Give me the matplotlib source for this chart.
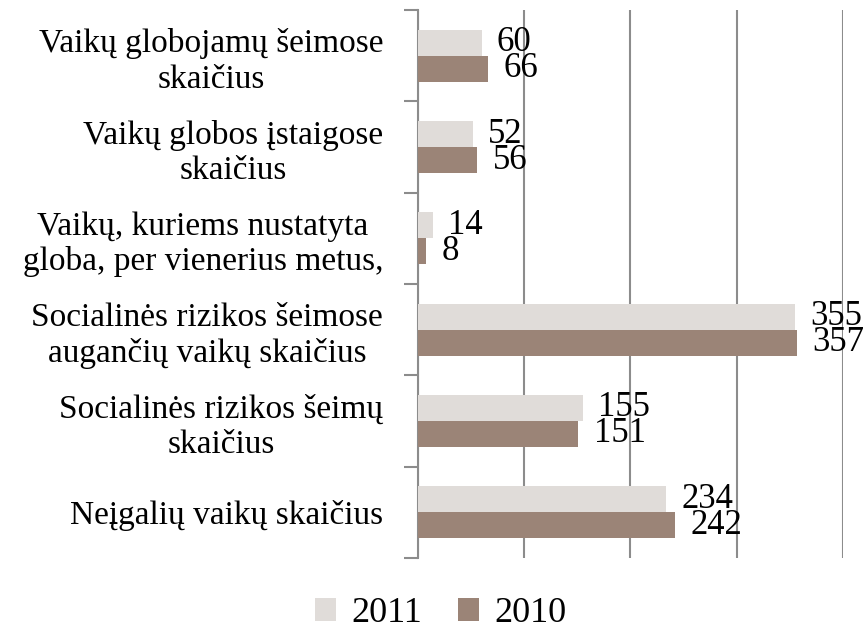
import matplotlib
matplotlib.use("Agg")
import matplotlib.pyplot as plt
import numpy as np

plt.rcParams['font.family'] = ['Liberation Serif', 'DejaVu Serif']

categories = [
    "Vaikų globojamų šeimose\nskaičius",
    "Vaikų globos įstaigose\nskaičius",
    "Vaikų, kuriems nustatyta\ngloba, per vienerius metus,",
    "Socialinės rizikos šeimose\naugančių vaikų skaičius",
    "Socialinės rizikos šeimų\nskaičius",
    "Neįgalių vaikų skaičius",
]
values_2011 = [60, 52, 14, 355, 155, 234]
values_2010 = [66, 56, 8, 357, 151, 242]
series_names = ["2011", "2010"]
colors = ["#E0DCD9", "#9B8477"]

fig = plt.figure(figsize=(8.67, 6.31), dpi=100)
ax = fig.add_axes([0.482, 0.116, 0.490, 0.868])

y = np.arange(len(categories))
bar_h = 0.285

bars_a = ax.barh(y - bar_h / 2, values_2011, height=bar_h, color=colors[0],
                 label=series_names[0], zorder=3)
bars_b = ax.barh(y + bar_h / 2, values_2010, height=bar_h, color=colors[1],
                 label=series_names[1], zorder=3)

# data labels right of bar ends (they sit tightly stacked, as in the original)
for bars, vals in [(bars_a, values_2011), (bars_b, values_2010)]:
    for bar, v in zip(bars, vals):
        ax.annotate(str(v), (v, bar.get_y() + bar.get_height() / 2),
                    xytext=(11, 0), textcoords='offset points',
                    ha='left', va='center', fontsize=25, annotation_clip=False)

ax.set_xlim(0, 400)
ax.set_ylim(len(categories) - 0.5, -0.5)
ax.set_xticks([0, 100, 200, 300, 400])
ax.set_xticklabels([])
ax.tick_params(axis='x', length=0)
ax.grid(axis='x', color='#8c8c8c', linewidth=1.5, zorder=0)

ax.set_yticks(y)
ax.set_yticklabels(categories, fontsize=24, multialignment='center')
ax.tick_params(axis='y', which='major', length=0, pad=25)
ax.set_yticks(np.arange(-0.5, len(categories), 1), minor=True)
ax.tick_params(axis='y', which='minor', length=10, width=1.5, color='#8c8c8c')

for side in ['top', 'right', 'bottom']:
    ax.spines[side].set_visible(False)
ax.spines['left'].set_color('#8c8c8c')
ax.spines['left'].set_linewidth(1.5)

fig.legend(loc='center', bbox_to_anchor=(0.508, 0.028), ncol=2, frameon=False,
           fontsize=26, handlelength=0.6, handleheight=0.6,
           handletextpad=0.4, columnspacing=1.0, borderpad=0.1)

fig.savefig('out.png', dpi=100)
